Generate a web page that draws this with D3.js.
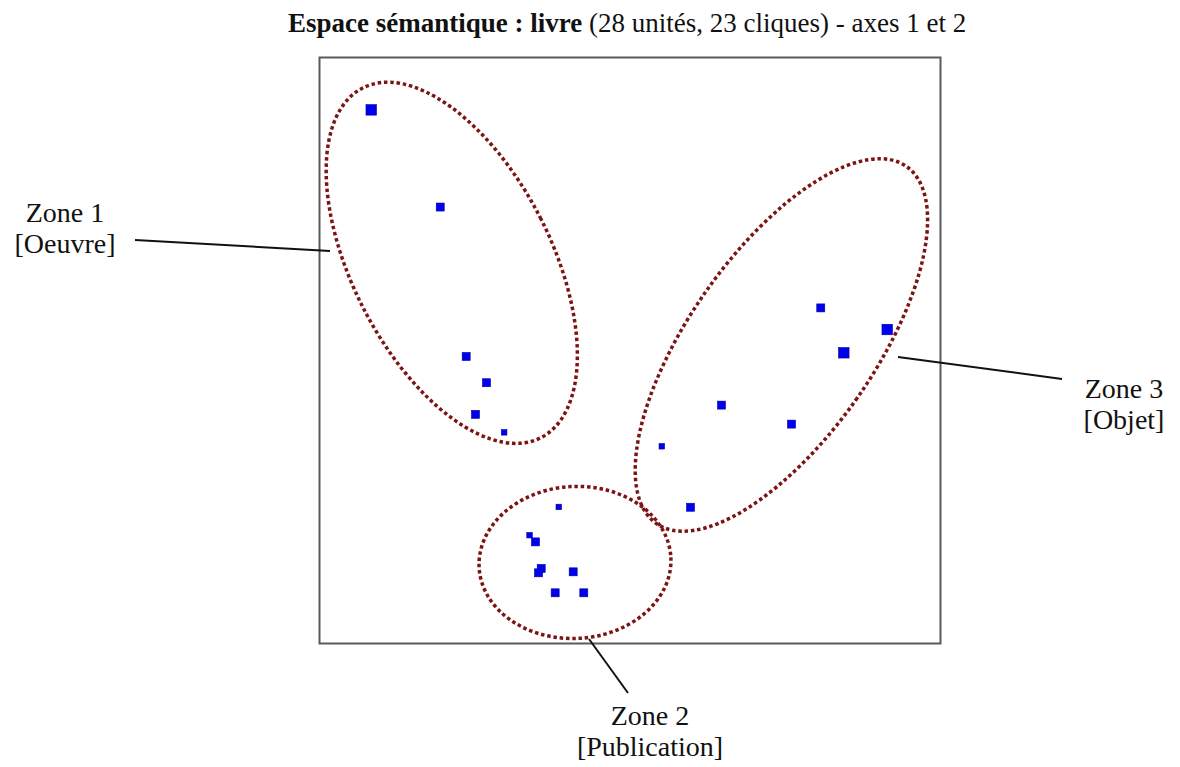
<!DOCTYPE html>
<html>
<head>
<meta charset="utf-8">
<script src="https://cdn.jsdelivr.net/npm/d3@7"></script>
<style>
  body { margin: 0; background: #fff; }
  svg { display: block; }
</style>
</head>
<body>
<svg id="chart"></svg>
<script>
// coordonnées des unités sur les axes 1 et 2 (échelle 0-100)
const axis1 = [8.33, 19.44, 23.62, 26.89, 25.12, 29.74,
  38.53, 33.82, 34.78, 35.70, 35.27, 40.85, 37.95, 42.56,
  80.72, 91.42, 84.43, 64.73, 76.01, 55.12, 59.74];
const axis2 = [91.06, 74.48, 48.98, 44.50, 39.10, 36.03,
  23.30, 18.48, 17.34, 12.81, 12.06, 12.23, 8.65, 8.65,
  57.27, 53.58, 49.61, 40.68, 37.44, 33.65, 23.25];
// poids de chaque point (1 = petit, 3 = gros)
const weight = [3, 2, 2, 2, 2, 1,
  1, 1, 2, 2, 2, 2, 2, 2,
  2, 3, 3, 2, 2, 1, 2];

// zones (ellipses) : centre sur les axes, demi-axes, inclinaison
const zoneNames = ['Zone 1', 'Zone 2', 'Zone 3'];
const zoneLabels = ['[Oeuvre]', '[Publication]', '[Objet]'];
const zoneCx = [21.3, 41.14, 74.38];
const zoneCy = [64.96, 13.83, 50.94];
const zoneRx = [16.0, 15.46, 14.9];
const zoneRy = [31.6, 12.24, 35.1];
const zoneAngle = [-27, -3, 35];

const width = 1180;
const height = 767;
const margin = { top: 57.5, right: 239.5, bottom: 123.5, left: 319.5 };

const svg = d3.select('#chart')
  .attr('width', width)
  .attr('height', height);

const x = d3.scaleLinear()
  .domain([0, 100])
  .range([margin.left, width - margin.right]);

const y = d3.scaleLinear()
  .domain([0, 100])
  .range([height - margin.bottom, margin.top]);

const size = d3.scaleOrdinal()
  .domain([1, 2, 3])
  .range([5.5, 8, 10.5]);

const pxPerUnit = x(1) - x(0);

// titre
const title = svg.append('text')
  .attr('x', 288)
  .attr('y', 32)
  .style('font-family', '"Liberation Serif", "Times New Roman", serif')
  .style('font-size', '27px')
  .attr('fill', '#111');
title.append('tspan')
  .style('font-weight', 'bold')
  .text('Espace sémantique : livre');
title.append('tspan')
  .text(' (28 unités, 23 cliques) - axes 1 et 2');

// cadre
svg.append('rect')
  .attr('x', x(0))
  .attr('y', y(100))
  .attr('width', x(100) - x(0))
  .attr('height', y(0) - y(100))
  .attr('fill', 'none')
  .attr('stroke', '#5a5a5a')
  .attr('stroke-width', 2);

// points
const pts = axis1.map((d, i) => ({ a1: d, a2: axis2[i], w: weight[i] }));

svg.selectAll('.pt')
  .data(pts)
  .enter().append('rect')
  .attr('class', 'pt')
  .attr('x', d => x(d.a1) - size(d.w) / 2)
  .attr('y', d => y(d.a2) - size(d.w) / 2)
  .attr('width', d => size(d.w))
  .attr('height', d => size(d.w))
  .attr('fill', '#0000f0')
  .attr('stroke', '#00009a')
  .attr('stroke-width', 0.6);

// ellipses en pointillé
const zones = zoneNames.map((n, i) => ({
  name: n, label: zoneLabels[i], cx: zoneCx[i], cy: zoneCy[i],
  rx: zoneRx[i], ry: zoneRy[i], angle: zoneAngle[i]
}));

svg.selectAll('.zone')
  .data(zones)
  .enter().append('ellipse')
  .attr('class', 'zone')
  .attr('transform', d => `translate(${x(d.cx)},${y(d.cy)}) rotate(${d.angle})`)
  .attr('rx', d => d.rx * pxPerUnit)
  .attr('ry', d => d.ry * pxPerUnit)
  .attr('fill', 'none')
  .attr('stroke', '#7d1414')
  .attr('stroke-width', 3.5)
  .attr('stroke-dasharray', '3.5 2.8');

// étiquettes des zones et traits de rappel
const labelPos = [
  { tx: 65, ty: 221.5, x1: 135, y1: 240, x2: 330, y2: 251 },
  { tx: 650, ty: 725, x1: 628, y1: 693, x2: 589, y2: 639 },
  { tx: 1124, ty: 398, x1: 1062, y1: 379, x2: 898, y2: 357 }
];

const lab = svg.selectAll('.zlabel')
  .data(zones)
  .enter().append('g')
  .attr('class', 'zlabel');

lab.append('line')
  .attr('x1', (d, i) => labelPos[i].x1)
  .attr('y1', (d, i) => labelPos[i].y1)
  .attr('x2', (d, i) => labelPos[i].x2)
  .attr('y2', (d, i) => labelPos[i].y2)
  .attr('stroke', '#111')
  .attr('stroke-width', 2);

const lt = lab.append('text')
  .attr('text-anchor', 'middle')
  .style('font-family', '"Liberation Serif", "Times New Roman", serif')
  .style('font-size', '28px')
  .attr('fill', '#111');

lt.append('tspan')
  .attr('x', (d, i) => labelPos[i].tx)
  .attr('y', (d, i) => labelPos[i].ty)
  .text(d => d.name);

lt.append('tspan')
  .attr('x', (d, i) => labelPos[i].tx)
  .attr('dy', 31)
  .text(d => d.label);
</script>
</body>
</html>
